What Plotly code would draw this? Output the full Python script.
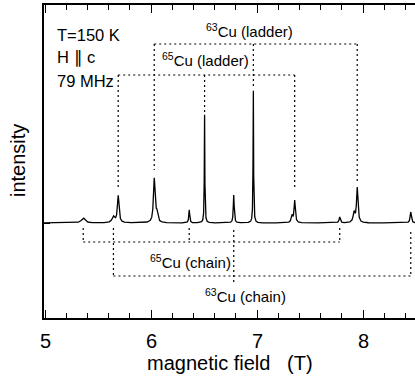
import numpy as np
import plotly.graph_objects as go

# ---- data ----
peak_pos    = [5.36, 5.645, 5.69, 6.03, 6.055, 6.36, 6.505, 6.78, 6.965, 7.33, 7.355, 7.78, 7.915, 7.945, 8.45]
peak_height = [5,    6,     27,   44,   9,     13,   111,   28,   136,   7,    22,    6,    10,    35,    11]
peak_hwhm   = [0.02, 0.015, 0.009, 0.009, 0.010, 0.005, 0.003, 0.005, 0.003, 0.009, 0.007, 0.007, 0.010, 0.008, 0.007]
dip_pos     = [6.508, 6.968]
dip_depth   = [-9, -12]
dip_hwhm    = [0.002, 0.002]

lad65_pos = [5.69, 6.505, 7.355]; lad65_level = 148; lad65_end = [35, 111, 33]
lad63_pos = [6.03, 6.965, 7.945]; lad63_level = 179; lad63_end = [53, 136, 41]
ch65_pos = [5.36, 6.36, 7.78];    ch65_level = -19;  ch65_start = [-5, -5, -5]; ch65_end = [-19, -19, -19]
ch63_pos = [5.645, 6.78, 8.45];   ch63_level = -53;  ch63_start = [-5, -7, -9]; ch63_end = [-53, -59, -53]

labels = ["<sup>63</sup>Cu (ladder)", "<sup>65</sup>Cu (ladder)", "<sup>65</sup>Cu (chain)", "<sup>63</sup>Cu (chain)"]
label_x = [6.93, 6.51, 6.37, 6.89]
label_y = [193, 164, -38, -72]

x_ticks = [5, 6, 7, 8]
info_lines = ["T=150 K", "H \u2225 c", "79 MHz"]

# ---- spectrum from read peaks ----
x = np.union1d(np.arange(4.99, 8.49, 0.0005), np.array(peak_pos))
y = np.zeros_like(x)
for p, h, w in zip(peak_pos + dip_pos, peak_height + dip_depth, peak_hwhm + dip_hwhm):
    y += h * w**2 / ((x - p)**2 + w**2)

FONT = "Arial, Liberation Sans, Helvetica, sans-serif"
fig = go.Figure()
fig.add_trace(go.Scatter(x=x, y=y, mode="lines", line=dict(color="black", width=1.3),
                         hoverinfo="skip", showlegend=False))

dot = dict(color="black", width=1.2, dash="2px,3px")
shapes = []
def hline(x0, x1, yy):
    shapes.append(dict(type="line", xref="x", yref="y", x0=x0, x1=x1, y0=yy, y1=yy, line=dot))
def vline(xx, y0, y1):
    shapes.append(dict(type="line", xref="x", yref="y", x0=xx, x1=xx, y0=y0, y1=y1, line=dot))

hline(lad65_pos[0], lad65_pos[-1], lad65_level)
for p, e in zip(lad65_pos, lad65_end):
    vline(p, lad65_level, e)
hline(lad63_pos[0], lad63_pos[-1], lad63_level)
for p, e in zip(lad63_pos, lad63_end):
    vline(p, lad63_level, e)
hline(ch65_pos[0], ch65_pos[-1], ch65_level)
for p, s, e in zip(ch65_pos, ch65_start, ch65_end):
    vline(p, s, e)
hline(ch63_pos[0], ch63_pos[-1], ch63_level)
for p, s, e in zip(ch63_pos, ch63_start, ch63_end):
    vline(p, s, e)

annotations = []
for t, lx, ly in zip(labels, label_x, label_y):
    annotations.append(dict(text=t, x=lx, y=ly, xref="x", yref="y", showarrow=False,
                            font=dict(family=FONT, size=15, color="black"),
                            xanchor="center", yanchor="middle"))
for i, t in enumerate(info_lines):
    annotations.append(dict(text=t, x=(55 - 44) / 371, y=(318 - (35 + 23 * i)) / 313,
                            xref="paper", yref="paper", showarrow=False,
                            font=dict(family=FONT, size=16.5, color="black"),
                            xanchor="left", yanchor="middle"))
for v in x_ticks:
    annotations.append(dict(text=str(v), x=v, y=(318 - 341) / 313, xref="x", yref="paper",
                            showarrow=False, font=dict(family=FONT, size=20, color="black"),
                            xanchor="center", yanchor="middle"))
annotations.append(dict(text="intensity", x=(18 - 44) / 371, y=(318 - 161) / 313,
                        xref="paper", yref="paper", showarrow=False, textangle=-90,
                        font=dict(family=FONT, size=20, color="black"),
                        xanchor="center", yanchor="middle"))
annotations.append(dict(text="magnetic field\u00a0\u00a0\u00a0(T)", x=(230 - 44) / 371, y=(318 - 363) / 313,
                        xref="paper", yref="paper", showarrow=False,
                        font=dict(family=FONT, size=20, color="black"),
                        xanchor="center", yanchor="middle"))

fig.update_layout(
    width=415, height=382,
    margin=dict(l=44, r=0, t=5, b=64),
    paper_bgcolor="white", plot_bgcolor="white",
    shapes=shapes, annotations=annotations,
    xaxis=dict(range=[4.99, 8.49], tickvals=x_ticks, showticklabels=False,
               ticks="inside", ticklen=8, tickwidth=1.2, tickcolor="black",
               minor=dict(dtick=0.2, tick0=5, ticks="inside", ticklen=5, tickwidth=1, tickcolor="black"),
               showline=True, linecolor="black", linewidth=1.6, mirror="ticks",
               showgrid=False, zeroline=False),
    yaxis=dict(range=[-95, 218], tickvals=[0], showticklabels=False,
               ticks="inside", ticklen=6, tickwidth=1.2, tickcolor="black",
               showline=True, linecolor="black", linewidth=1.6,
               showgrid=False, zeroline=False),
)
fig.write_html("out.html")
